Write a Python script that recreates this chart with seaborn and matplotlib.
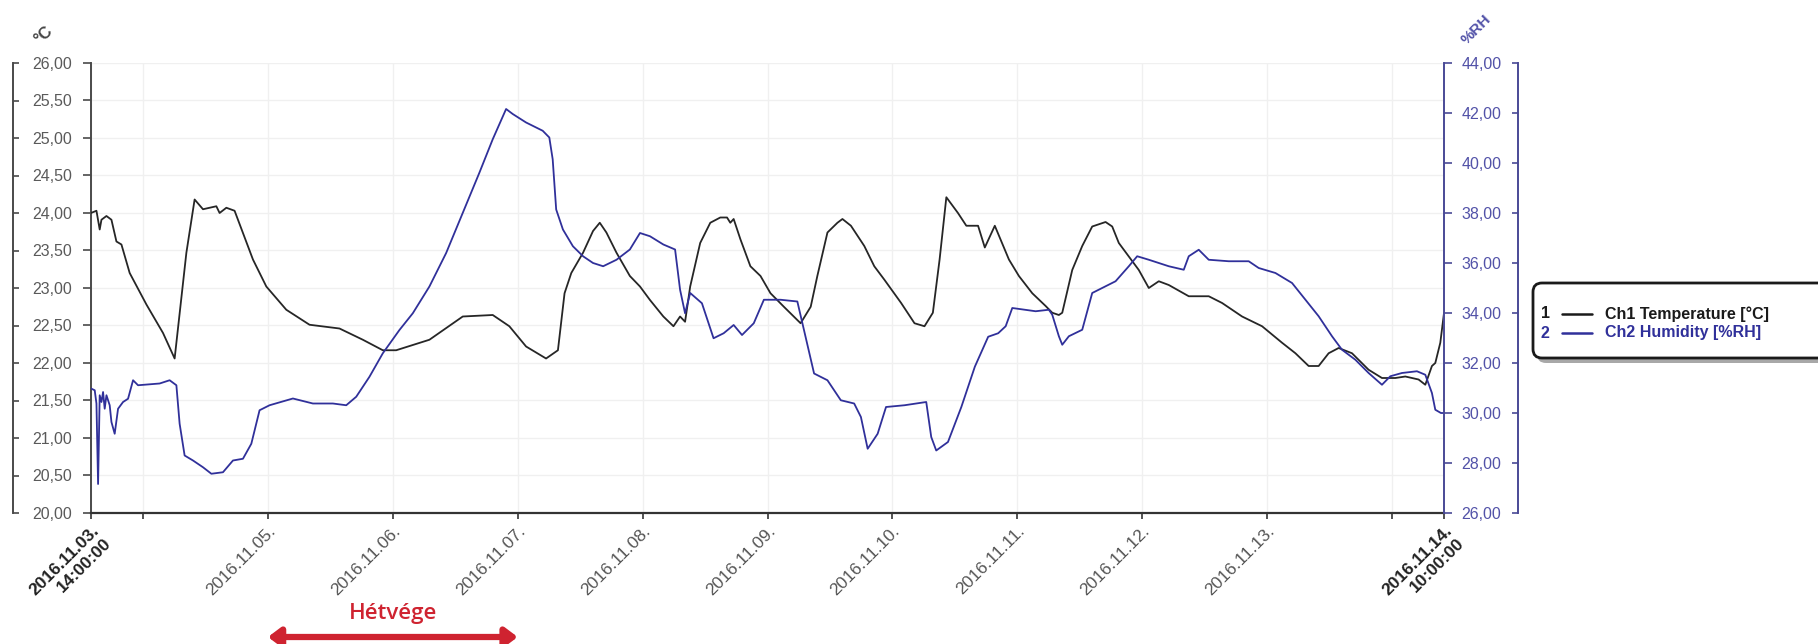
import numpy as np
import pandas as pd
import matplotlib
matplotlib.use("Agg")
import matplotlib.pyplot as plt
from matplotlib.ticker import FuncFormatter
from matplotlib.patches import FancyBboxPatch
from matplotlib.lines import Line2D
from matplotlib.transforms import IdentityTransform
import seaborn as sns

# ---------------- data (days since 2016-11-03 00:00) ----------------
BASE = "2016-11-03 00:00"
START = "2016-11-03 14:00"
END = "2016-11-14 10:00"

temp_day = [0.583, 0.627, 0.653, 0.667, 0.707, 0.747, 0.787, 0.827, 0.893, 1.027,
            1.160, 1.253, 1.347, 1.413, 1.480, 1.587, 1.613, 1.667, 1.733, 1.880,
            1.987, 2.147, 2.333, 2.573, 2.760, 2.920, 3.027, 3.293, 3.560, 3.800,
            3.933, 4.067, 4.227, 4.322, 4.375, 4.429, 4.523, 4.603, 4.657, 4.710,
            4.791, 4.898, 4.979, 5.059, 5.166, 5.247, 5.300, 5.340, 5.381, 5.461,
            5.542, 5.622, 5.676, 5.702, 5.729, 5.783, 5.863, 5.944, 6.024, 6.131,
            6.265, 6.346, 6.399, 6.480, 6.560, 6.600, 6.668, 6.775, 6.855, 6.936,
            7.070, 7.177, 7.257, 7.324, 7.378, 7.432, 7.525, 7.592, 7.686, 7.740,
            7.820, 7.933, 8.013, 8.120, 8.227, 8.280, 8.333, 8.360, 8.440, 8.520,
            8.600, 8.707, 8.760, 8.813, 8.893, 8.973, 9.053, 9.133, 9.213, 9.373,
            9.533, 9.640, 9.800, 9.960, 10.120, 10.227, 10.333, 10.413, 10.493, 10.573,
            10.680, 10.813, 10.920, 11.027, 11.107, 11.213, 11.267, 11.320, 11.347, 11.387,
            11.417]
temp_c = [24.00, 24.03, 23.78, 23.91, 23.96, 23.91, 23.62, 23.58, 23.20, 22.78,
          22.40, 22.06, 23.47, 24.18, 24.05, 24.09, 24.00, 24.07, 24.03, 23.38,
          23.02, 22.71, 22.51, 22.46, 22.31, 22.17, 22.17, 22.31, 22.62, 22.64,
          22.49, 22.22, 22.06, 22.17, 22.93, 23.20, 23.47, 23.76, 23.87, 23.74,
          23.47, 23.16, 23.02, 22.84, 22.62, 22.49, 22.62, 22.55, 23.02, 23.60,
          23.87, 23.94, 23.94, 23.87, 23.92, 23.65, 23.29, 23.16, 22.93, 22.75,
          22.53, 22.75, 23.16, 23.74, 23.87, 23.92, 23.83, 23.56, 23.29, 23.11,
          22.80, 22.53, 22.49, 22.67, 23.38, 24.21, 24.00, 23.83, 23.83, 23.54,
          23.83, 23.38, 23.16, 22.93, 22.76, 22.67, 22.64, 22.67, 23.24, 23.56,
          23.82, 23.88, 23.82, 23.60, 23.42, 23.24, 23.00, 23.09, 23.04, 22.89,
          22.89, 22.80, 22.62, 22.49, 22.27, 22.13, 21.96, 21.96, 22.13, 22.20,
          22.13, 21.91, 21.80, 21.80, 21.82, 21.78, 21.71, 21.96, 22.00, 22.27,
          22.67]

hum_day = [0.583, 0.613, 0.627, 0.640, 0.653, 0.667, 0.680, 0.693, 0.707, 0.733,
           0.747, 0.773, 0.800, 0.840, 0.880, 0.920, 0.960, 1.133, 1.213, 1.267,
           1.293, 1.333, 1.400, 1.480, 1.547, 1.640, 1.720, 1.800, 1.867, 1.933,
           2.013, 2.200, 2.360, 2.520, 2.627, 2.707, 2.813, 2.920, 3.053, 3.160,
           3.293, 3.427, 3.560, 3.693, 3.800, 3.907, 3.960, 4.067, 4.200, 4.253,
           4.280, 4.308, 4.362, 4.442, 4.523, 4.603, 4.684, 4.791, 4.898, 4.979,
           5.059, 5.166, 5.260, 5.300, 5.340, 5.381, 5.475, 5.568, 5.649, 5.729,
           5.796, 5.890, 5.971, 6.105, 6.239, 6.292, 6.373, 6.480, 6.587, 6.694,
           6.748, 6.802, 6.882, 6.949, 7.097, 7.271, 7.311, 7.351, 7.445, 7.552,
           7.660, 7.767, 7.847, 7.907, 7.960, 8.147, 8.253, 8.280, 8.333, 8.360,
           8.413, 8.520, 8.600, 8.680, 8.787, 8.893, 8.960, 9.053, 9.213, 9.333,
           9.373, 9.453, 9.533, 9.693, 9.853, 9.933, 10.067, 10.200, 10.307, 10.413,
           10.520, 10.600, 10.707, 10.813, 10.920, 10.987, 11.080, 11.200, 11.267, 11.320,
           11.347, 11.392, 11.417]
hum_rh = [30.98, 30.91, 30.38, 27.16, 30.71, 30.44, 30.84, 30.17, 30.71, 30.31,
          29.64, 29.17, 30.17, 30.44, 30.57, 31.31, 31.11, 31.18, 31.31, 31.11,
          29.57, 28.30, 28.10, 27.83, 27.57, 27.63, 28.10, 28.17, 28.77, 30.11,
          30.31, 30.58, 30.38, 30.38, 30.31, 30.65, 31.45, 32.39, 33.32, 33.99,
          35.06, 36.40, 38.01, 39.61, 40.95, 42.16, 41.96, 41.62, 41.29, 41.02,
          40.15, 38.14, 37.34, 36.67, 36.27, 36.00, 35.87, 36.13, 36.54, 37.20,
          37.07, 36.74, 36.54, 34.93, 33.99, 34.80, 34.39, 32.99, 33.19, 33.52,
          33.12, 33.59, 34.53, 34.53, 34.46, 33.32, 31.58, 31.31, 30.51, 30.38,
          29.84, 28.57, 29.17, 30.24, 30.31, 30.44, 29.04, 28.50, 28.84, 30.24,
          31.85, 33.05, 33.19, 33.47, 34.20, 34.07, 34.13, 33.93, 33.07, 32.73,
          33.07, 33.33, 34.80, 35.00, 35.27, 35.87, 36.27, 36.13, 35.87, 35.73,
          36.27, 36.53, 36.13, 36.07, 36.07, 35.80, 35.60, 35.20, 34.53, 33.87,
          33.07, 32.53, 32.13, 31.60, 31.13, 31.47, 31.60, 31.67, 31.53, 30.80,
          30.13, 30.00, 30.00]

temp_ticks = [20.0, 20.5, 21.0, 21.5, 22.0, 22.5, 23.0, 23.5, 24.0, 24.5, 25.0, 25.5, 26.0]
hum_ticks = [26, 28, 30, 32, 34, 36, 38, 40, 42, 44]

x_tick_times = ["2016-11-03 14:00", "2016-11-04 00:00", "2016-11-05 00:00", "2016-11-06 00:00",
                "2016-11-07 00:00", "2016-11-08 00:00", "2016-11-09 00:00", "2016-11-10 00:00",
                "2016-11-11 00:00", "2016-11-12 00:00", "2016-11-13 00:00", "2016-11-14 00:00",
                "2016-11-14 10:00"]
x_tick_labels = ["2016.11.03.\n14:00:00", "", "2016.11.05.", "2016.11.06.", "2016.11.07.",
                 "2016.11.08.", "2016.11.09.", "2016.11.10.", "2016.11.11.", "2016.11.12.",
                 "2016.11.13.", "", "2016.11.14.\n10:00:00"]

series_labels = ["Ch1 Temperature [°C]", "Ch2 Humidity [%RH]"]
weekend_label = "Hétvége"
weekend_start = "2016-11-05 00:00"
weekend_mid = "2016-11-06 00:00"
weekend_end = "2016-11-07 00:00"

# ---------------- styling ----------------
sns.set_theme(style="white")
plt.rcParams["font.family"] = ["Liberation Sans", "DejaVu Sans"]

TEMP_COLOR = "#262626"
HUM_COLOR = "#30309a"
RAXIS_COLOR = "#4a4a96"
RLABEL_COLOR = "#5252a8"
LAXIS_COLOR = "#4a4a4a"
LLABEL_COLOR = "#5a5a5a"
RED = "#cf2330"

W_PX, H_PX = 1818, 644
fig = plt.figure(figsize=(W_PX / 100, H_PX / 100), dpi=100)
fig.patch.set_facecolor("white")

ax_l, ax_r, ax_t, ax_b = 91, 1444, 63, 513
ax = fig.add_axes([ax_l / W_PX, 1 - ax_b / H_PX, (ax_r - ax_l) / W_PX, (ax_b - ax_t) / H_PX])

base = pd.Timestamp(BASE)
temp_df = pd.DataFrame({"time": base + pd.to_timedelta(temp_day, unit="D"), "temp": temp_c})
hum_df = pd.DataFrame({"time": base + pd.to_timedelta(hum_day, unit="D"), "hum": hum_rh})

sns.lineplot(data=temp_df, x="time", y="temp", ax=ax, color=TEMP_COLOR, lw=1.3,
             estimator=None, sort=False, zorder=3)
ax2 = ax.twinx()
sns.lineplot(data=hum_df, x="time", y="hum", ax=ax2, color=HUM_COLOR, lw=1.3,
             estimator=None, sort=False, zorder=2)

ax.set_xlim(pd.Timestamp(START), pd.Timestamp(END))
ax.set_ylim(20, 26)
ax2.set_ylim(26, 44)
ax.set_xlabel("")
ax.set_ylabel("")
ax2.set_ylabel("")

comma = FuncFormatter(lambda v, p: f"{v:.2f}".replace(".", ","))
ax.set_yticks(temp_ticks)
ax.yaxis.set_major_formatter(comma)
ax2.set_yticks(hum_ticks)
ax2.yaxis.set_major_formatter(comma)

ax.set_xticks([pd.Timestamp(t) for t in x_tick_times])
ax.set_xticklabels(x_tick_labels)

# grid
ax.grid(True, color="#f0f0f0", lw=1.0)
ax2.grid(False)
ax.set_axisbelow(True)

# spines
for s in ["top", "right"]:
    ax.spines[s].set_visible(False)
for s in ["top", "left", "bottom"]:
    ax2.spines[s].set_visible(False)
ax.spines["left"].set_color(LAXIS_COLOR)
ax.spines["left"].set_linewidth(1.4)
ax.spines["bottom"].set_color("#333333")
ax.spines["bottom"].set_linewidth(1.6)
ax2.spines["right"].set_color(RAXIS_COLOR)
ax2.spines["right"].set_linewidth(1.4)

ax.tick_params(axis="y", direction="out", length=5.5, width=1.2, color=LAXIS_COLOR,
               labelsize=11.5, labelcolor=LLABEL_COLOR, pad=8, left=True)
ax.tick_params(axis="x", direction="out", length=4.5, width=1.2, color="#333333",
               labelsize=12.5, labelcolor="#555555", pad=3, bottom=True)
ax2.tick_params(axis="y", direction="out", length=5.5, width=1.2, color=RAXIS_COLOR,
                labelsize=11.5, labelcolor=RLABEL_COLOR, pad=7, right=True)

for i, lbl in enumerate(ax.get_xticklabels()):
    lbl.set_rotation(45)
    lbl.set_ha("right")
    lbl.set_va("top")
    lbl.set_rotation_mode("anchor")
    lbl.set_multialignment("right")
    if i in (0, len(x_tick_labels) - 1):
        lbl.set_fontweight("bold")
        lbl.set_color("#222222")

# bracket-like outer axes
axw = ax_r - ax_l
secl = ax.secondary_yaxis((13 - ax_l) / axw)
secl.set_yticks(temp_ticks)
secl.tick_params(axis="y", direction="in", length=4.5, width=1.2, color=LAXIS_COLOR,
                 labelleft=False, labelright=False)
for s in secl.spines.values():
    s.set_color(LAXIS_COLOR)
    s.set_linewidth(1.4)

secr = ax2.secondary_yaxis((1518 - ax_l) / axw)
secr.set_yticks(hum_ticks)
secr.tick_params(axis="y", direction="in", length=4.5, width=1.2, color=RAXIS_COLOR,
                 labelleft=False, labelright=False)
for s in secr.spines.values():
    s.set_color(RAXIS_COLOR)
    s.set_linewidth(1.4)

# unit labels
fig.text(44 / W_PX, 1 - 35 / H_PX, "°C", rotation=45, ha="center", va="center",
         fontsize=12, fontweight="bold", color="#444444")
fig.text(1476 / W_PX, 1 - 30 / H_PX, "%RH", rotation=45, ha="center", va="center",
         fontsize=11, fontweight="bold", color=RLABEL_COLOR)

# legend box (pixel coordinates)
idt = IdentityTransform()
bx0, by_top, by_bot = 1533, 283, 358
shadow = FancyBboxPatch((bx0 + 4, H_PX - by_bot - 5), 320, by_bot - by_top,
                        boxstyle="round,pad=0,rounding_size=9", transform=idt,
                        facecolor="#a8a8a8", edgecolor="none", zorder=1)
box = FancyBboxPatch((bx0, H_PX - by_bot), 320, by_bot - by_top,
                     boxstyle="round,pad=0,rounding_size=9", transform=idt,
                     facecolor="white", edgecolor="#1a1a1a", lw=2.0, zorder=2)
fig.patches.extend([shadow, box])
for k, (lab, col, yy) in enumerate([(series_labels[0], "#1a1a1a", 314),
                                    (series_labels[1], HUM_COLOR, 333)]):
    ypx = H_PX - yy
    fig.text(1545 / W_PX, ypx / H_PX, str(k + 1), ha="center", va="center",
             fontsize=11.5, fontweight="bold", color=col, zorder=3)
    fig.add_artist(Line2D([1562 / W_PX, 1592 / W_PX], [ypx / H_PX, ypx / H_PX],
                          transform=fig.transFigure, color=col if k else "#1a1a1a",
                          lw=1.8, zorder=3))
    fig.text(1605 / W_PX, ypx / H_PX, lab, ha="left", va="center",
             fontsize=11.5, fontweight="bold", color=col, zorder=3)

# weekend annotation
ax.annotate("", xy=(pd.Timestamp(weekend_end), 7 / H_PX),
            xytext=(pd.Timestamp(weekend_start), 7 / H_PX),
            xycoords=("data", "figure fraction"), textcoords=("data", "figure fraction"),
            arrowprops=dict(arrowstyle="<|-|>,head_length=0.6,head_width=0.45",
                            color=RED, lw=4.5, shrinkA=0, shrinkB=0),
            annotation_clip=False)
ax.annotate(weekend_label, xy=(pd.Timestamp(weekend_mid), 31 / H_PX),
            xycoords=("data", "figure fraction"), ha="center", va="center",
            fontsize=16, fontweight="semibold", color=RED, family=["Open Sans", "DejaVu Sans"],
            annotation_clip=False)

fig.savefig("out.png", dpi=100)
